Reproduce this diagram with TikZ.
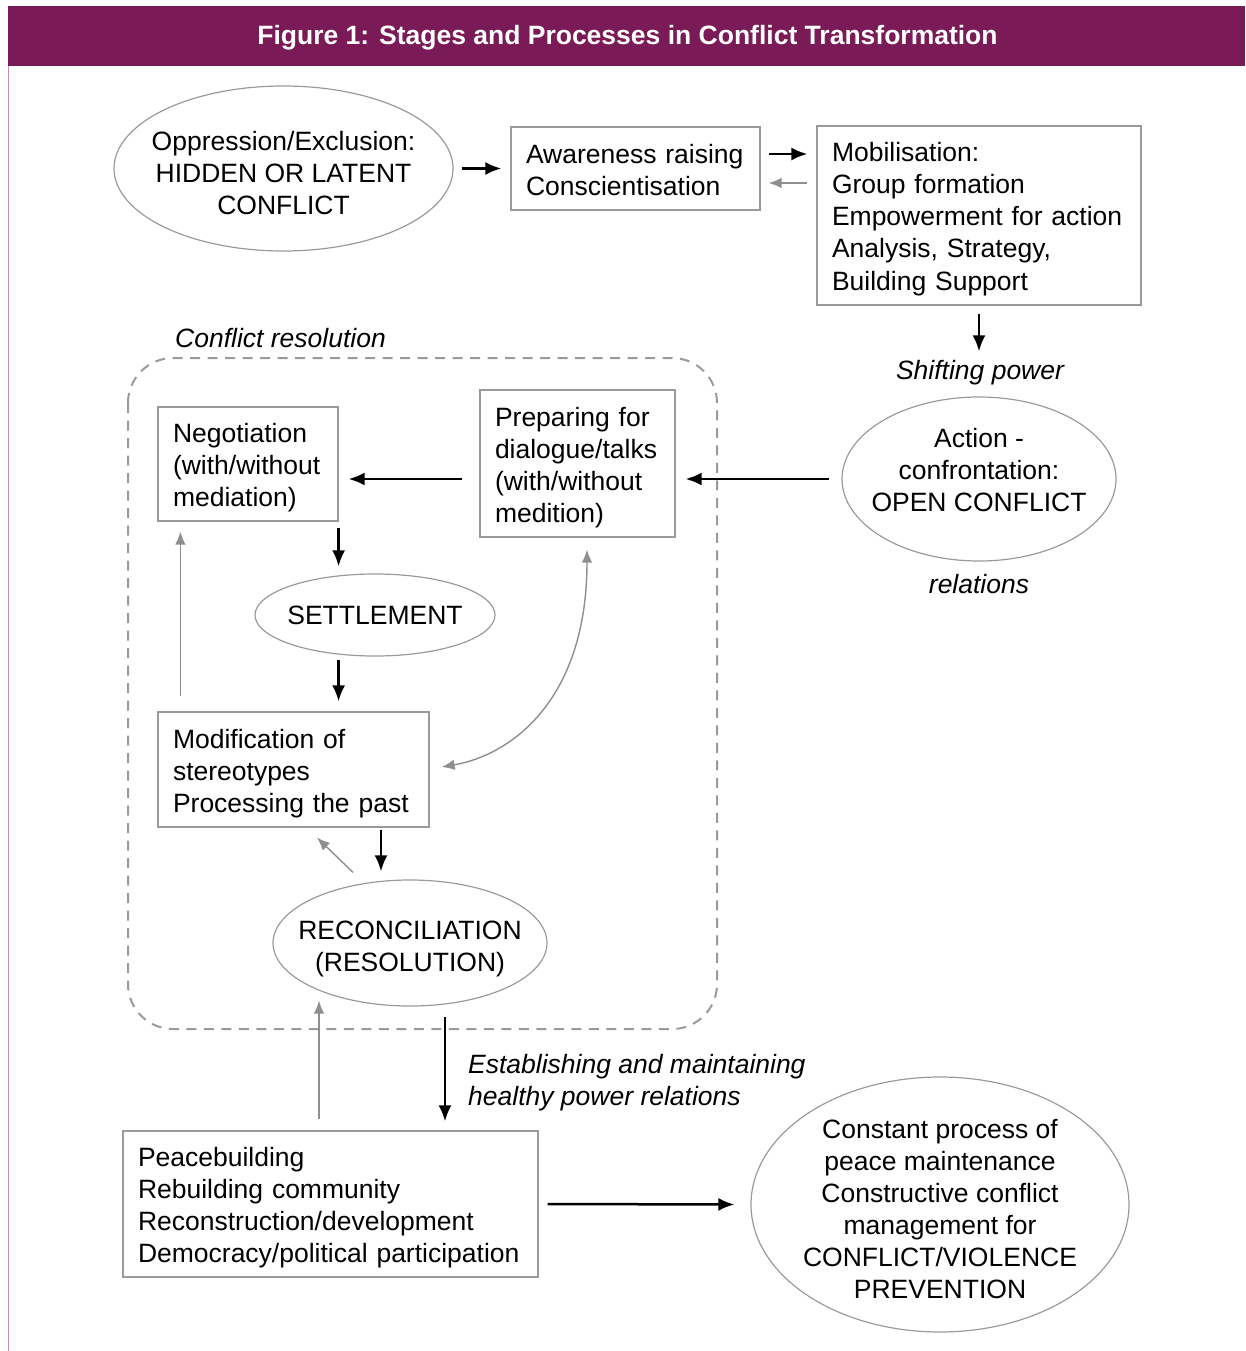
\documentclass[tikz,border=0pt]{standalone}
\usepackage{fontspec}
\setmainfont{Liberation Sans}
\usetikzlibrary{shapes.geometric,arrows.meta}
\definecolor{plum}{HTML}{7A1A56}
\definecolor{rule}{HTML}{C98BB1}
\definecolor{edge}{HTML}{9A9A9A}
\definecolor{soft}{HTML}{8E8E8E}
\begin{document}
\begin{tikzpicture}[x=1pt, y=-1pt, font=\fontsize{26.5}{32}\selectfont,
  lt/.tip={Latex[length=13pt,width=10.5pt]},
  box/.style={draw=edge, line width=1.2pt, align=left, inner xsep=15pt, inner ysep=0pt, text height=26.5pt},
  oval/.style={ellipse, draw=edge, line width=1.2pt, align=center, inner xsep=-20pt, inner ysep=0pt},
  note/.style={font=\fontsize{26.5}{32}\selectfont\itshape, align=left, inner sep=0pt},
  dark/.style={-{Latex[length=16pt,width=13pt]}, line width=2.5pt},
  light/.style={-lt, draw=soft, line width=1.4pt}]
\useasboundingbox (0,0) rectangle (1245,1351);
% title bar
\fill[plum] (8,6) rectangle (1245,66);
\node[text=white, font=\fontsize{26.5}{30}\selectfont\bfseries] (title) at (627.5,38) {Figure 1: Stages and Processes in Conflict Transformation};
\draw[rule, line width=1.5pt] (8.5,66) -- (8.5,1351);
% frame
\draw[edge, line width=2pt, dash pattern=on 10pt off 7.5pt, rounded corners=45pt] (128,358) rectangle (717,1029);
\node[note, anchor=west] (crlab) at (175,338) {Conflict resolution};
% stages
\node[oval, text height=93pt, minimum width=339pt, minimum height=165pt] (opp) at (283.5,168.5) {Oppression/Exclusion:\\HIDDEN OR LATENT\\CONFLICT};
\node[box, text height=22pt, text width=219pt, minimum height=83pt] (aware) at (635.5,168.5) {Awareness raising\\Conscientisation};
\node[box, text width=294pt, minimum height=179pt] (mob) at (979,215.5) {Mobilisation:\\Group formation\\Empowerment for action\\Analysis, Strategy,\\Building Support};
\node[note] (shift) at (980,373) {Shifting power};
\node[oval, text depth=18pt, minimum width=274pt, minimum height=164pt] (act) at (979,479) {Action -\\confrontation:\\OPEN CONFLICT};
\node[note] (rel) at (979,584) {relations};
\node[box, text width=165pt, minimum height=147pt] (prep) at (577.5,463.5) {Preparing for\\dialogue/talks\\(with/without\\medition)};
\node[box, text width=150pt, minimum height=114pt] (neg) at (248,464) {Negotiation\\(with/without\\mediation)};
\node[oval, minimum width=240pt, minimum height=82pt] (settle) at (375,615) {SETTLEMENT};
\node[box, text width=241pt, minimum height=115pt] (mod) at (293.5,769.5) {Modification of\\stereotypes\\Processing the past};
\node[oval, text height=63pt, minimum width=274pt, minimum height=126pt] (recon) at (410,943) {RECONCILIATION\\(RESOLUTION)};
\node[note, anchor=west] (estab) at (468,1083) {Establishing and maintaining\\healthy power relations};
\node[box, text width=385pt, minimum height=146pt] (peace) at (330.5,1204) {Peacebuilding\\Rebuilding community\\Reconstruction/development\\Democracy/political participation};
\node[oval, text height=189pt, inner ysep=-12pt, minimum width=378pt, minimum height=255pt] (keep) at (940,1204.5) {Constant process of\\peace maintenance\\Constructive conflict\\management for\\CONFLICT/VIOLENCE\\PREVENTION};
% arrows
\draw[dark, shorten <=8pt, shorten >=9pt] (opp.east) -- (aware.west);
\draw[dark, shorten <=8pt, shorten >=9pt] ([yshift=14.5pt]aware.east) -- ([yshift=14.5pt]aware.east -| mob.west);
\draw[light, shorten <=9pt, shorten >=8pt] ([yshift=-14.5pt]aware.east -| mob.west) -- ([yshift=-14.5pt]aware.east);
\draw[dark, shorten <=8pt, shorten >=45pt] (mob.south) -- (act.north);
\draw[dark, shorten <=12pt, shorten >=10pt] (act.west) -- (act.west -| prep.east);
\draw[dark, shorten <=17pt, shorten >=10pt] (act.west -| prep.west) -- (act.west -| neg.east);
\draw[dark, shorten <=6pt, shorten >=7pt] (neg.south east) -- (neg.south east |- settle.north);
\draw[dark, shorten <=3pt, shorten >=10pt] (neg.east |- settle.south) -- (neg.east |- mod.north);
\draw[light, shorten <=15pt, shorten >=10pt] ([xshift=23pt]mod.north west) -- ([xshift=23pt]neg.south west);
\draw[light, lt-lt] ([xshift=9.5pt,yshift=-12pt]prep.south) .. controls +(0,150) and +(70,-12) .. ([xshift=12pt,yshift=2.5pt]mod.east);
\draw[dark, shorten <=2pt, shorten >=8pt] ([xshift=-29pt]recon.north |- mod.south) -- ([xshift=-29pt]recon.north);
\draw[light] ([xshift=-57pt,yshift=7pt]recon.north) -- ([xshift=23.5pt,yshift=-10pt]mod.south);
\draw[dark, shorten <=10pt, shorten >=9pt] ([xshift=35pt]recon.south) -- ([xshift=35pt]recon.south |- peace.north);
\draw[light, shorten <=11pt] ([xshift=-91pt]recon.south |- peace.north) -- ([xshift=-91pt,yshift=6pt]recon.south);
\draw[dark, shorten <=9pt, shorten >=16pt] (peace.east) -- (keep.west);
\end{tikzpicture}
\end{document}
